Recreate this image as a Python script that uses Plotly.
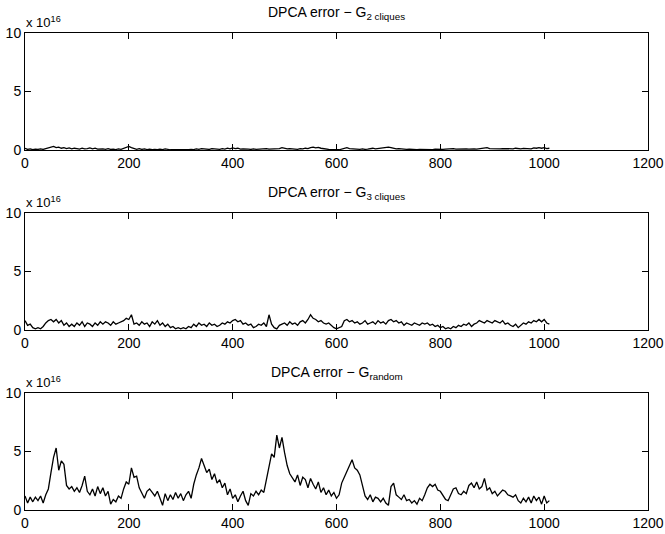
import plotly.graph_objects as go

# sample index (every 5th step)
x_index = list(range(0, 1011, 5))

# values in units of 1e16
g2_cliques = [
    0.15,0.05,0.1,0.03,0.08,0.05,0.1,0.05,0.12,0.2,
    0.25,0.3,0.2,0.25,0.15,0.2,0.12,0.18,0.1,0.15,
    0.12,0.08,0.15,0.1,0.12,0.18,0.1,0.15,0.08,0.12,
    0.1,0.06,0.12,0.05,0.08,0.04,0.1,0.06,0.12,0.2,
    0.3,0.2,0.1,0.06,0.12,0.05,0.1,0.04,0.08,0.03,
    0.06,0.03,0.08,0.04,0.1,0.05,0.02,0.04,0.03,0.02,
    0.04,0.02,0.05,0.03,0.06,0.04,0.1,0.06,0.12,0.08,
    0.1,0.05,0.12,0.08,0.1,0.06,0.12,0.08,0.15,0.1,
    0.18,0.12,0.15,0.08,0.1,0.06,0.08,0.05,0.1,0.06,
    0.08,0.05,0.1,0.12,0.08,0.1,0.06,0.08,0.12,0.2,
    0.15,0.1,0.12,0.08,0.1,0.06,0.12,0.1,0.15,0.12,
    0.2,0.25,0.18,0.22,0.15,0.1,0.08,0.05,0.03,0.05,
    0.04,0.02,0.06,0.15,0.2,0.12,0.1,0.08,0.12,0.06,
    0.1,0.05,0.08,0.12,0.15,0.1,0.12,0.18,0.2,0.22,
    0.25,0.2,0.15,0.1,0.12,0.08,0.1,0.06,0.08,0.05,
    0.04,0.03,0.05,0.04,0.06,0.03,0.05,0.04,0.08,0.06,
    0.1,0.06,0.08,0.1,0.06,0.12,0.08,0.1,0.12,0.08,
    0.1,0.08,0.12,0.1,0.08,0.12,0.1,0.14,0.2,0.12,
    0.1,0.12,0.08,0.1,0.12,0.1,0.14,0.12,0.1,0.15,
    0.12,0.1,0.14,0.12,0.15,0.1,0.18,0.15,0.2,0.15,
    0.2,0.12,0.15,
]

g3_cliques = [
    0.8,0.4,0.5,0.2,0.1,0.2,0.1,0.3,0.6,0.8,
    0.9,0.7,0.9,0.6,0.8,0.4,0.6,0.3,0.5,0.3,
    0.6,0.4,0.7,0.3,0.6,0.5,0.3,0.6,0.4,0.7,
    0.5,0.7,0.6,0.4,0.7,0.5,0.6,0.7,0.8,1.0,
    0.9,1.3,0.5,0.6,0.4,0.7,0.5,0.6,0.3,0.7,
    0.5,0.8,0.4,0.6,0.3,0.5,0.2,0.3,0.1,0.2,
    0.1,0.2,0.1,0.3,0.2,0.5,0.3,0.6,0.4,0.5,
    0.3,0.6,0.4,0.5,0.3,0.4,0.6,0.5,0.7,0.6,
    0.8,0.9,0.7,0.8,0.5,0.6,0.4,0.5,0.2,0.3,
    0.5,0.4,0.6,0.3,1.3,0.5,0.2,0.1,0.4,0.5,
    0.6,0.4,0.7,0.5,0.6,0.4,0.7,0.8,0.6,0.9,
    1.3,1.0,0.9,0.7,0.8,0.6,0.5,0.6,0.4,0.2,
    0.1,0.2,0.3,0.8,0.9,0.7,0.8,0.6,0.7,0.5,
    0.6,0.8,0.5,0.6,0.7,0.5,0.8,0.6,0.7,0.5,
    0.8,0.9,0.7,0.8,0.6,0.7,0.4,0.6,0.5,0.4,
    0.6,0.5,0.4,0.6,0.5,0.6,0.4,0.5,0.3,0.4,
    0.2,0.3,0.1,0.2,0.1,0.3,0.2,0.4,0.3,0.5,
    0.4,0.6,0.3,0.5,0.6,0.8,0.7,0.6,0.8,0.7,
    0.6,0.8,0.7,0.6,0.8,0.5,0.6,0.4,0.3,0.5,
    0.2,0.4,0.6,0.5,0.7,0.6,0.8,0.7,0.9,0.7,
    0.9,0.6,0.5,
]

g_random = [
    1.2,0.6,1.1,0.7,1.1,0.8,1.2,0.6,1.3,1.8,
    3.2,4.5,5.3,3.4,4.2,3.9,2.1,1.8,2.0,1.6,
    1.9,1.5,2.1,2.9,1.6,1.3,1.8,1.2,2.0,1.4,
    1.9,1.2,1.6,0.5,0.9,0.7,1.2,1.0,1.8,2.4,
    2.2,3.6,2.8,2.9,1.9,1.4,1.0,1.6,1.8,1.5,
    1.2,1.6,0.9,0.4,1.4,0.8,1.3,0.9,1.5,1.0,
    1.4,0.8,1.3,1.6,1.0,2.2,3.0,3.6,4.4,3.8,
    3.2,3.5,2.6,3.1,2.3,2.6,1.9,2.3,1.3,1.8,
    1.0,1.3,0.7,1.2,1.6,0.8,0.4,1.4,1.2,1.6,
    1.3,1.7,1.5,2.6,3.6,4.8,4.5,6.4,5.3,6.2,
    4.9,3.8,3.1,2.8,2.4,3.0,2.1,2.8,2.6,1.9,
    2.7,2.2,1.8,2.4,1.5,1.9,1.3,1.7,1.2,1.5,
    1.0,1.3,2.3,2.8,3.3,3.8,4.3,3.6,3.4,3.0,
    2.0,1.2,0.9,1.3,0.7,1.1,1.0,0.7,1.0,0.6,
    0.4,2.0,2.3,1.3,1.1,0.9,1.3,0.8,0.9,0.6,
    0.8,0.5,1.0,0.8,1.3,1.9,2.2,2.0,2.2,1.7,
    1.6,1.3,0.9,0.8,1.3,1.8,1.9,1.4,1.3,1.6,
    1.4,2.1,2.3,1.9,2.4,1.8,2.0,2.7,1.7,1.9,
    1.4,1.6,1.2,1.5,1.7,1.6,1.3,1.2,1.1,1.3,
    0.8,0.6,1.0,0.7,1.1,0.6,1.2,0.8,1.1,0.5,
    1.2,0.6,0.8,
]

series = [g2_cliques, g3_cliques, g_random]
titles = ["DPCA error − G<sub>2 cliques</sub>",
          "DPCA error − G<sub>3 cliques</sub>",
          "DPCA error − G<sub>random</sub>"]
x_ticks = [0, 200, 400, 600, 800, 1000, 1200]
y_ticks = [0, 5, 10]

W, H = 665, 534
ml, mr, mt, mb = 25, 17, 33, 24
plot_h = H - mt - mb
panel_px = 117
tops_px = [33, 213, 393]
domains = []
for t in tops_px:
    top = 1 - (t - mt) / plot_h
    bot = 1 - (t + panel_px - mt) / plot_h
    domains.append([max(bot, 0), min(top, 1)])

FONT = "Liberation Sans, Arial, Helvetica, sans-serif"
fig = go.Figure()
annotations = []
for i, (ys, title, dom) in enumerate(zip(series, titles, domains)):
    n = i + 1
    xa = "x" if n == 1 else f"x{n}"
    ya = "y" if n == 1 else f"y{n}"
    fig.add_trace(go.Scatter(x=x_index[:len(ys)], y=ys, mode="lines",
                             line=dict(color="black", width=1.3),
                             xaxis=xa, yaxis=ya, showlegend=False,
                             hoverinfo="skip"))
    axcommon = dict(showline=True, linecolor="black", linewidth=1,
                    mirror="ticks", ticks="inside", ticklen=6,
                    tickcolor="black", showgrid=False, zeroline=False,
                    automargin=False,
                    tickfont=dict(family=FONT, size=14, color="black"))
    fig.update_layout(**{
        ("xaxis" if n == 1 else f"xaxis{n}"): dict(
            range=[0, 1200], tickvals=x_ticks, domain=[0, 1],
            anchor=ya, **axcommon),
        ("yaxis" if n == 1 else f"yaxis{n}"): dict(
            range=[0, 10], tickvals=y_ticks, domain=dom,
            anchor=xa, **axcommon),
    })
    annotations.append(dict(text=title, x=0.5, y=dom[1], xref="paper",
                            yref="paper", xanchor="center", yanchor="bottom",
                            yshift=9, showarrow=False,
                            font=dict(family=FONT, size=14, color="black")))
    annotations.append(dict(text="x 10<sup>16</sup>", x=0, y=dom[1],
                            xref="paper", yref="paper", xanchor="left",
                            yanchor="bottom", yshift=1, xshift=-1,
                            showarrow=False,
                            font=dict(family=FONT, size=13, color="black")))

fig.update_layout(width=W, height=H,
                  margin=dict(l=ml, r=mr, t=mt, b=mb, autoexpand=False),
                  paper_bgcolor="white", plot_bgcolor="white",
                  annotations=annotations)
fig.write_html("out.html", config={"displayModeBar": False},
               post_script="document.body.style.margin='0';"
                           "document.body.style.overflow='hidden';")
